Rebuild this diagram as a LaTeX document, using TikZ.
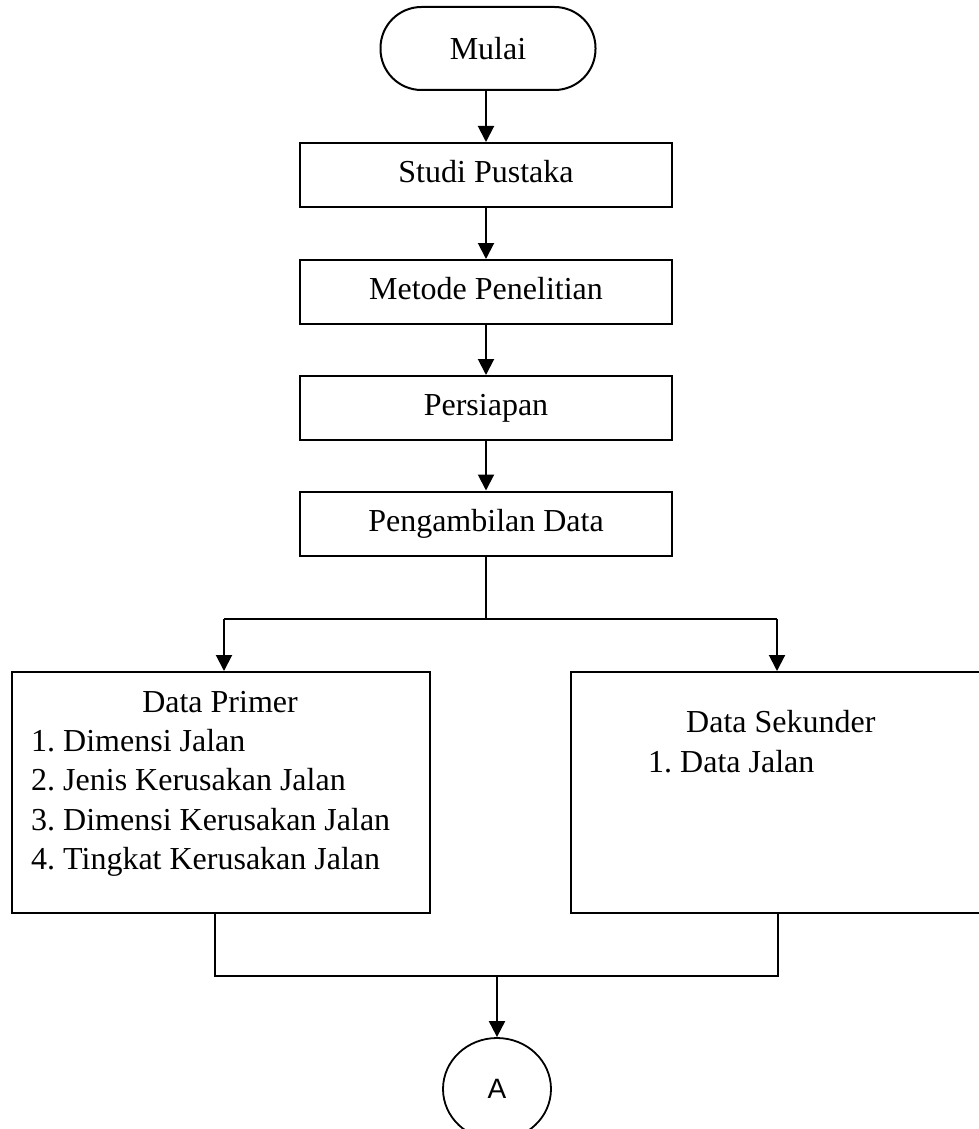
\documentclass[tikz,border=0pt]{standalone}
\usepackage{fontspec}
\setmainfont{Liberation Serif}
\newfontfamily\sansA{Liberation Sans}
\usetikzlibrary{arrows.meta,shapes.geometric}
\frenchspacing
\begin{document}
\begin{tikzpicture}[x=1pt,y=-1pt,
  font=\fontsize{32}{39}\selectfont,
  box/.style={draw,line width=2pt,minimum width=372pt,minimum height=64pt,inner sep=0pt,text height=22pt,text depth=7pt},
  term/.style={draw,line width=2pt,rounded corners=41pt,minimum width=215pt,minimum height=83pt,inner sep=0pt,text height=22pt,text depth=0pt},
  bigbox/.style={draw,line width=2pt,inner sep=0pt},
  arr/.style={line width=2pt,-{Triangle[length=16pt,width=16pt]}},
  thinline/.style={line width=1.1pt},
  txt/.style={inner sep=0pt,anchor=base west},
  conn/.style={draw,ellipse,line width=1.8pt,minimum width=108pt,minimum height=102pt,inner sep=0pt,font=\sansA\fontsize{28}{32}\selectfont}]
\useasboundingbox (0,0) rectangle (978,1129);

\node[term] (start) at (488,48.5) {Mulai};
\node[box] (s1) at (486,175) {Studi Pustaka};
\node[box] (s2) at (486,292) {Metode Penelitian};
\node[box] (s3) at (486,408) {Persiapan};
\node[box] (s4) at (486,523.5) {Pengambilan Data};

\node[bigbox,minimum width=418pt,minimum height=241pt] (primer) at (221,792.5) {};
\node[bigbox,minimum width=420pt,minimum height=241pt] (sek) at (781,792.5) {};

\node[inner sep=0pt,anchor=base] (ptitle) at (220,712) {Data Primer};
\node[txt] (p1) at (31,751) {1. Dimensi Jalan};
\node[txt] (p2) at (31,790) {2. Jenis Kerusakan Jalan};
\node[txt] (p3) at (31,830) {3. Dimensi Kerusakan Jalan};
\node[txt] (p4) at (31,869) {4. Tingkat Kerusakan Jalan};

\node[txt] (stitle) at (686,732) {Data Sekunder};
\node[txt] (s1item) at (648,772) {1. Data Jalan};

\node[conn] (A) at (497,1089) {A};

\draw[arr] (s1.north |- start.south) -- (s1.north);
\draw[arr] (s1) -- (s2);
\draw[arr] (s2) -- (s3);
\draw[arr] (s3) -- (s4);

\coordinate (split) at (486,619);
\coordinate (jl) at (224,619);
\coordinate (jr) at (777,619);
\draw[thinline] (s4.south) -- (split);
\draw[thinline] (jl) -- (jr);
\draw[arr] (jl) -- (primer.north -| jl);
\draw[arr] (jr) -- (sek.north -| jr);

\coordinate (bl) at (215,976);
\coordinate (br) at (778,976);
\coordinate (bm) at (497,976);
\draw[thinline] (primer.south -| bl) -- (bl) -- (br) -- (sek.south -| br);
\draw[arr] (bm) -- (A.north);
\end{tikzpicture}
\end{document}
